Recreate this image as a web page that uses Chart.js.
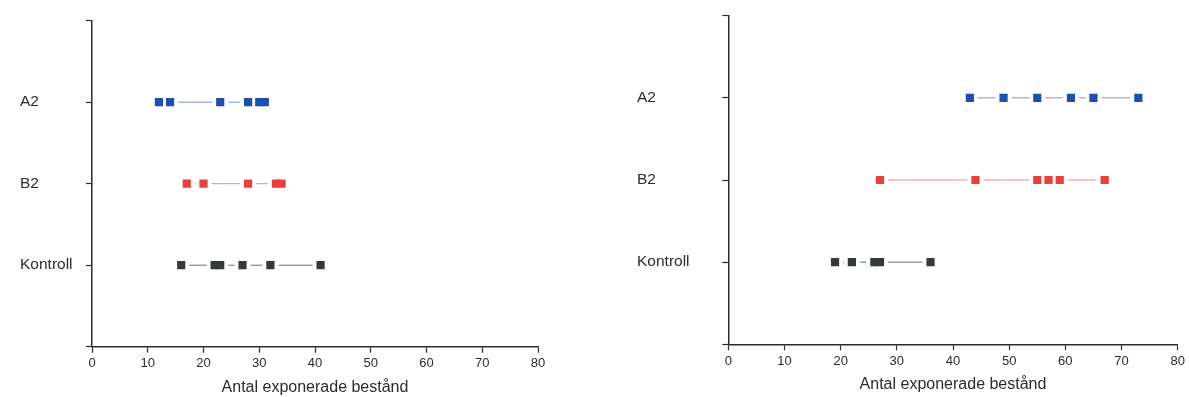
<!DOCTYPE html>
<html>
<head>
<meta charset="utf-8">
<script src="https://cdn.jsdelivr.net/npm/chart.js@4.4.1/dist/chart.umd.min.js"></script>
<style>
  html, body { margin: 0; padding: 0; background: #fff; }
  #wrap { position: relative; width: 1189px; height: 397px; }
  .box { position: absolute; top: 0; height: 397px; }
</style>
</head>
<body>
<div id="wrap">
  <div class="box" style="left:0;width:600px"><canvas id="left"></canvas></div>
  <div class="box" style="left:600px;width:589px"><canvas id="right"></canvas></div>
</div>
<script>
// categories bottom to top
const categories = ['Kontroll', 'B2', 'A2'];
const xMin = 0;
const xMax = 80;
const xStep = 10;
const axisTitle = 'Antal exponerade bestånd';

// left panel
const leftKontroll = [16, 22, 23, 27, 32, 41];
const leftB2 = [17, 20, 28, 33, 34];
const leftA2 = [12, 14, 23, 28, 30, 31];

// right panel
const rightKontroll = [19, 22, 26, 27, 36];
const rightB2 = [27, 44, 55, 57, 59, 67];
const rightA2 = [43, 49, 55, 61, 65, 73];

const markerColors = ['#343a3a', '#ec3f3a', '#1e4fb0'];
const lineColors = ['#6e7272', '#ea8c8a', '#7d8fd2'];

const ink = '#2b2b2b';
const fontFamily = '"Liberation Sans", Arial, sans-serif';

function buildDatasets(series) {
    const datasets = [];
    series.forEach((values, i) => {
        const pts = values.map(v => ({ x: v, y: i + 1 }));
        // thin connecting line
        datasets.push({
            data: pts, showLine: true, pointRadius: 0,
            borderColor: lineColors[i], borderWidth: 1, order: 2
        });
        // white halo so the line stops short of each marker
        datasets.push({
            data: pts, pointStyle: 'rect', pointRadius: 11.3,
            pointBackgroundColor: '#fff', pointBorderWidth: 0, order: 1
        });
        datasets.push({
            data: pts, pointStyle: 'rect', pointRadius: 5.8,
            pointBackgroundColor: markerColors[i], pointBorderWidth: 0, order: 0
        });
    });
    return datasets;
}

function makeChart(id, series, lay) {
    const ctx = document.getElementById(id).getContext('2d');
    return new Chart(ctx, {
        type: 'scatter',
        data: { datasets: buildDatasets(series) },
        options: {
            responsive: true,
            maintainAspectRatio: false,
            animation: false,
            events: [],
            layout: { padding: { left: lay.left, right: lay.right, top: lay.top, bottom: 0 } },
            plugins: { legend: { display: false }, tooltip: { enabled: false } },
            scales: {
                x: {
                    type: 'linear', min: xMin, max: xMax,
                    afterFit: (s) => { s.height = lay.xHeight; },
                    ticks: { stepSize: xStep, color: ink, padding: 3, font: { family: fontFamily, size: 13 } },
                    grid: { drawOnChartArea: false, tickLength: 6, tickColor: ink, tickWidth: 1.2 },
                    border: { color: ink, width: 1.5 },
                    title: {
                        display: true, text: axisTitle, color: ink,
                        padding: { top: 0, bottom: lay.titlePad },
                        font: { family: fontFamily, size: 16 }
                    }
                },
                y: {
                    type: 'linear', min: 0, max: categories.length + 1,
                    afterFit: (s) => { s.width = lay.yWidth; },
                    ticks: {
                        stepSize: 1, crossAlign: 'far', color: ink,
                        font: { family: fontFamily, size: 15.5 },
                        callback: (v) => categories[v - 1] || ''
                    },
                    grid: { drawOnChartArea: false, tickLength: 6, tickColor: ink, tickWidth: 1.2 },
                    border: { color: ink, width: 1.5 }
                }
            }
        }
    });
}

makeChart('left', [leftKontroll, leftB2, leftA2],
    { left: 20, right: 62, top: 20.7, yWidth: 72, xHeight: 50.3, titlePad: 0 });
makeChart('right', [rightKontroll, rightB2, rightA2],
    { left: 37, right: 11.3, top: 15.7, yWidth: 91.3, xHeight: 52.7, titlePad: 2.4 });
</script>
</body>
</html>
